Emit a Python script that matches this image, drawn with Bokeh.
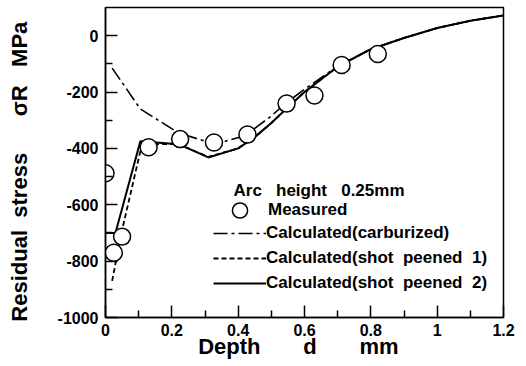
from bokeh.plotting import figure
from bokeh.models import (Range1d, FixedTicker, Label, Legend, LegendItem)
from bokeh.embed import file_html
from bokeh.resources import INLINE

# ---- data ----
meas_depth = [0.0, 0.025, 0.05, 0.13, 0.225, 0.327, 0.428, 0.546, 0.63, 0.712, 0.821]
meas_stress = [-488, -770, -713, -396, -367, -379, -351, -241, -212, -104, -65]

carb_depth = [0.02, 0.105, 0.22, 0.33, 0.42, 0.5, 0.54, 0.6, 0.7, 0.8, 0.9, 1.0, 1.1, 1.2]
carb_stress = [-115, -260, -345, -385, -355, -285, -243, -190, -108, -48, -8, 27, 53, 72]

sp1_depth = [0.02, 0.05, 0.11, 0.22, 0.31, 0.4, 0.45, 0.5, 0.54, 0.6, 0.7, 0.8, 0.9, 1.0, 1.1, 1.2]
sp1_stress = [-870, -690, -385, -385, -430, -400, -360, -310, -265, -200, -110, -48, -8, 27, 53, 72]

sp2_depth = [0.0, 0.03, 0.105, 0.22, 0.31, 0.4, 0.45, 0.5, 0.54, 0.6, 0.7, 0.8, 0.9, 1.0, 1.1, 1.2]
sp2_stress = [-700, -700, -375, -385, -432, -400, -360, -310, -265, -200, -110, -48, -8, 27, 53, 72]

x_ticks = [0, 0.2, 0.4, 0.6, 0.8, 1.0, 1.2]
x_tick_labels = ["0", "0.2", "0.4", "0.6", "0.8", "1", "1.2"]
x_minor = [0.1, 0.3, 0.5, 0.7, 0.9, 1.1]
y_ticks = [-1000, -800, -600, -400, -200, 0]
y_tick_labels = ["-1000", "-800", "-600", "-400", "-200", "0"]
y_minor = [-900, -700, -500, -300, -100]

NB = "\u00a0"
x_title = "Depth" + NB * 7 + "d" + NB * 7 + "mm" + NB * 2
y_title = "Residual" + NB * 2 + "stress" + NB * 6 + "σR" + NB * 3 + "MPa" + NB * 3
legend_title = "Arc" + NB * 3 + "height" + NB * 3 + "0.25mm"

FONT = "Liberation Sans"

p = figure(width=526, height=366, output_backend="svg", toolbar_location=None,
           x_range=Range1d(0, 1.2), y_range=Range1d(-1000, 100),
           min_border_left=105, min_border_right=23, min_border_top=7, min_border_bottom=49)
p.xgrid.visible = False
p.ygrid.visible = False
p.outline_line_color = "black"
p.outline_line_width = 1.5
p.background_fill_color = "white"
p.border_fill_color = "white"

for ax, ticks, minor, labels in [(p.xaxis[0], x_ticks, x_minor, x_tick_labels),
                                  (p.yaxis[0], y_ticks, y_minor, y_tick_labels)]:
    ax.ticker = FixedTicker(ticks=ticks, minor_ticks=minor)
    ax.major_label_overrides = {t: l for t, l in zip(ticks, labels)}
    ax.axis_line_color = "black"
    ax.axis_line_width = 1.5
    ax.major_tick_in = 12
    ax.major_tick_out = 0
    ax.minor_tick_in = 7
    ax.minor_tick_out = 0
    ax.major_tick_line_width = 1.5
    ax.minor_tick_line_width = 1.5
    ax.major_tick_line_color = "black"
    ax.minor_tick_line_color = "black"
    ax.major_label_text_font = FONT
    ax.major_label_text_font_style = "bold"
    ax.major_label_text_font_size = "16px"
    ax.major_label_text_color = "black"
    ax.axis_label_text_font = FONT
    ax.axis_label_text_font_style = "bold"
    ax.axis_label_text_color = "black"
p.xaxis.axis_label_text_font_size = "22px"
p.yaxis.axis_label_text_font_size = "22px"
p.xaxis.major_label_standoff = 6
p.yaxis.major_label_standoff = 7
p.xaxis.axis_label = x_title
p.yaxis.axis_label = y_title
p.xaxis.axis_label_standoff = -5
p.yaxis.axis_label_standoff = 23

r_carb = p.line(carb_depth, carb_stress, line_color="black", line_width=1.6, line_dash="14 4 3 4")
r_sp1 = p.line(sp1_depth, sp1_stress, line_color="black", line_width=1.8, line_dash="5 3")
r_sp2 = p.line(sp2_depth, sp2_stress, line_color="black", line_width=2)
r_meas = p.scatter(meas_depth, meas_stress, marker="circle", size=17,
                   fill_color="white", line_color="black", line_width=1.5)

# legends
leg_common = dict(glyph_width=53, padding=0, margin=0, border_line_color=None,
                  background_fill_alpha=0, label_text_font=FONT,
                  label_text_font_style="bold", label_text_font_size="17px",
                  label_text_color="black")
leg1 = Legend(items=[LegendItem(label="Measured", renderers=[r_meas])],
              location=(108, 88), glyph_height=38, label_height=38,
              label_standoff=2, spacing=0, **leg_common)
leg2 = Legend(items=[LegendItem(label="Calculated(carburized)", renderers=[r_carb]),
                     LegendItem(label="Calculated(shot" + NB * 2 + "peened" + NB * 2 + "1)", renderers=[r_sp1]),
                     LegendItem(label="Calculated(shot" + NB * 2 + "peened" + NB * 2 + "2)", renderers=[r_sp2])],
              location=(108, 24), glyph_height=20, label_height=20,
              label_standoff=0, spacing=5, **leg_common)
p.add_layout(leg1)
p.add_layout(leg2)

# pixel -> data helpers for text placement inside the frame
def dx(px):
    return (px - 105) / (398 / 1.2)

def dy(py):
    return -(py - 35.18) / (310 / 1100)

p.add_layout(Label(x=dx(233), y=dy(190), text=legend_title, text_font=FONT,
                   text_font_style="bold", text_font_size="17px", text_color="black",
                   text_align="left", text_baseline="alphabetic"))

open("out.html", "w").write(file_html(p, INLINE))
